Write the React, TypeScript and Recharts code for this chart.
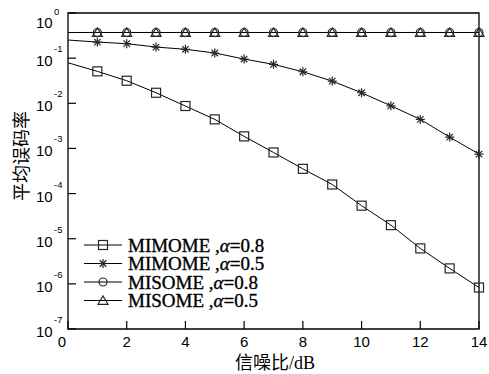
import React from 'react';
import { LineChart, Line, XAxis, YAxis, ReferenceArea } from 'recharts';

const snr = [0, 1, 2, 3, 4, 5, 6, 7, 8, 9, 10, 11, 12, 13, 14];
const mimome08 = [0.079, 0.051, 0.0316, 0.0171, 0.0087, 0.0044, 0.00185, 0.000815, 0.000353, 0.000159, 5.4e-5, 2.0e-5, 6.1e-6, 2.2e-6, 8.3e-7];
const mimome05 = [0.252, 0.227, 0.209, 0.176, 0.157, 0.13, 0.0955, 0.0728, 0.05, 0.031, 0.0171, 0.0088, 0.0044, 0.00178, 0.00075];
const misome08 = [0.37, 0.37, 0.37, 0.37, 0.37, 0.37, 0.37, 0.37, 0.37, 0.37, 0.37, 0.37, 0.37, 0.37, 0.37];
const misome05 = [0.37, 0.37, 0.37, 0.37, 0.37, 0.37, 0.37, 0.37, 0.37, 0.37, 0.37, 0.37, 0.37, 0.37, 0.37];

const xTicks = [0, 2, 4, 6, 8, 10, 12, 14];
const yTicks = [1, 1e-1, 1e-2, 1e-3, 1e-4, 1e-5, 1e-6, 1e-7];
const yExps = ['0', '-1', '-2', '-3', '-4', '-5', '-6', '-7'];

const legendNames = ['MIMOME', 'MIMOME', 'MISOME', 'MISOME'];
const legendAlphas = ['0.8', '0.5', '0.8', '0.5'];

const data = snr.map((s, i) => ({
  snr: s,
  a: mimome08[i],
  b: mimome05[i],
  c: misome08[i],
  d: misome05[i],
}));

const MK = '#262626';

function Marker({ kind, cx, cy }: { kind: string; cx: number; cy: number }) {
  if (kind === 'square') {
    return <rect x={cx - 4.5} y={cy - 4.5} width={9} height={9} fill="none" stroke={MK} strokeWidth={1.2} />;
  }
  if (kind === 'star') {
    const r = 4.5;
    const d = r * 0.72;
    return (
      <g stroke={MK} strokeWidth={1.2}>
        <line x1={cx - r} y1={cy} x2={cx + r} y2={cy} />
        <line x1={cx} y1={cy - r} x2={cx} y2={cy + r} />
        <line x1={cx - d} y1={cy - d} x2={cx + d} y2={cy + d} />
        <line x1={cx - d} y1={cy + d} x2={cx + d} y2={cy - d} />
      </g>
    );
  }
  if (kind === 'circle') {
    return <circle cx={cx} cy={cy} r={4} fill="none" stroke={MK} strokeWidth={1.2} />;
  }
  return (
    <polygon
      points={`${cx - 5},${cy + 3.8} ${cx + 5},${cy + 3.8} ${cx},${cy - 4.6}`}
      fill="none"
      stroke={MK}
      strokeWidth={1.2}
    />
  );
}

function makeDot(kind: string) {
  return (props: any) => {
    const { cx, cy, index } = props;
    if (index === 0 || cx == null || cy == null) return <g key={`d-${kind}-${index}`} />;
    return (
      <g key={`d-${kind}-${index}`}>
        <Marker kind={kind} cx={cx} cy={cy} />
      </g>
    );
  };
}

const XTick = (props: any) => {
  const { x, y, payload } = props;
  const v = payload.value;
  const lx = v === 0 ? x - 6 : x;
  return (
    <g>
      <line x1={x} y1={y} x2={x} y2={y - 8} stroke="#000" strokeWidth={1.2} />
      <text x={lx} y={y + 18} textAnchor="middle" fontSize={15} fontFamily="Liberation Sans, Arial, sans-serif" fill="#000">
        {v}
      </text>
    </g>
  );
};

const YTick = (props: any) => {
  const { x, y, payload, index } = props;
  const exp = yExps[yTicks.indexOf(payload.value)] ?? '';
  const isTop = payload.value === 1;
  const by = isTop ? y + 15 : y + 8;
  const sy = isTop ? y + 2 : y - 6;
  return (
    <g key={`yt-${index}`}>
      <line x1={x} y1={y} x2={x + 8} y2={y} stroke="#000" strokeWidth={1.2} />
      <text x={x - 32} y={by} fontSize={15} fontFamily="Liberation Sans, Arial, sans-serif" fill="#000">
        10
      </text>
      <text x={x - 14} y={sy} fontSize={9.5} fontFamily="Liberation Sans, Arial, sans-serif" fill="#000">
        {exp}
      </text>
    </g>
  );
};

const kinds = ['square', 'star', 'circle', 'triangle'];
const rowY = [245, 263.5, 282, 300.5];

export default function App() {
  return (
    <div style={{ position: 'absolute', left: 0, top: 0, width: 489, height: 374, background: '#fff' }}>
      <LineChart width={489} height={374} data={data} margin={{ top: 13, right: 10, bottom: 0, left: 0 }}>
        <XAxis
          dataKey="snr"
          type="number"
          domain={[0, 14]}
          ticks={xTicks}
          axisLine={false}
          tickLine={false}
          tickSize={0}
          tickMargin={0}
          height={45}
          tick={<XTick />}
          interval={0}
        />
        <YAxis
          scale="log"
          type="number"
          domain={[1e-7, 1]}
          ticks={yTicks}
          allowDataOverflow
          axisLine={false}
          tickLine={false}
          tickSize={0}
          tickMargin={0}
          width={68}
          tick={<YTick />}
          interval={0}
        />
        <ReferenceArea x1={0} x2={14} y1={1e-7} y2={1} fill="none" stroke="#000" strokeWidth={1.3} ifOverflow="visible" />
        <Line dataKey="a" stroke="#000" strokeWidth={1} dot={makeDot('square')} isAnimationActive={false} />
        <Line dataKey="b" stroke="#000" strokeWidth={1} dot={makeDot('star')} isAnimationActive={false} />
        <Line dataKey="c" stroke="#000" strokeWidth={1} dot={makeDot('circle')} isAnimationActive={false} />
        <Line dataKey="d" stroke="#000" strokeWidth={1} dot={makeDot('triangle')} isAnimationActive={false} />
      </LineChart>
      <svg width={489} height={374} style={{ position: 'absolute', left: 0, top: 0, pointerEvents: 'none' }}>
        {kinds.map((k, i) => (
          <g key={k}>
            <line x1={84} y1={rowY[i]} x2={122} y2={rowY[i]} stroke="#000" strokeWidth={1} />
            <Marker kind={k} cx={103} cy={rowY[i]} />
            <text
              x={128}
              y={rowY[i] + 6.5}
              fontSize={19}
              fontFamily="Liberation Serif, Times New Roman, serif"
              fill="#000"
              stroke="#000"
              strokeWidth={0.35}
            >
              {`${legendNames[i]} ,`}
              <tspan fontStyle="italic">α</tspan>
              {`=${legendAlphas[i]}`}
            </text>
          </g>
        ))}
        <text x={275} y={369} textAnchor="middle" fontSize={18} fill="#000">
          <tspan fontFamily="Noto Sans CJK SC, sans-serif">信噪比</tspan>
          <tspan fontFamily="Liberation Serif, Times New Roman, serif">/dB</tspan>
        </text>
        <text
          x={0}
          y={0}
          transform="translate(28,156) rotate(-90)"
          textAnchor="middle"
          fontSize={18}
          fontFamily="Noto Sans CJK SC, sans-serif"
          fill="#000"
        >
          平均误码率
        </text>
      </svg>
    </div>
  );
}
